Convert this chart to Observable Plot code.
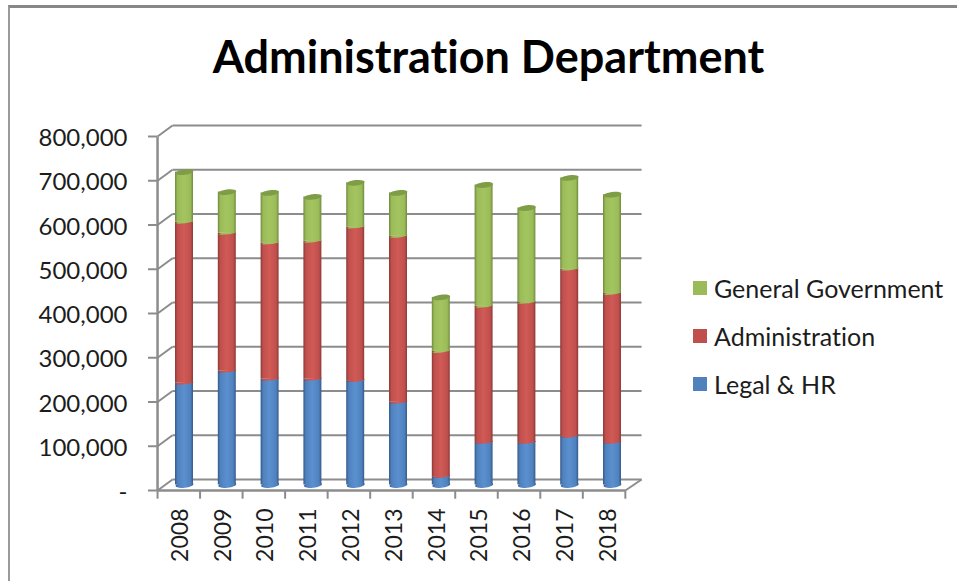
<!DOCTYPE html>
<html>
<head>
<meta charset="utf-8">
<title>Administration Department</title>
<script src="https://cdn.jsdelivr.net/npm/d3@7"></script>
<script src="https://cdn.jsdelivr.net/npm/@observablehq/plot@0.6"></script>
<style>
  html, body { margin: 0; padding: 0; background: #fff; }
  #chart { position: relative; width: 957px; height: 581px; overflow: hidden; font-family: Lato, "Open Sans", sans-serif; color: #1c1c1c; font-variant-ligatures: none; }
  #frame { position: absolute; left: 8px; top: 5px; right: -4px; bottom: -4px; border-top: 3px solid #878787; border-left: 2px solid #9a9a9a; }
  #title { position: absolute; left: 0; width: 977px; top: 30px; text-align: center; font-size: 45px; font-weight: 700; color: #000; line-height: 52px; white-space: nowrap; }
  .key { position: absolute; left: 693px; font-size: 25px; line-height: 28px; white-space: nowrap; }
  .key i { position: absolute; left: 0; top: 7px; width: 14px; height: 14px; }
  .key span { position: absolute; left: 21px; top: 0; }
  svg { position: absolute; left: 0; top: 0; }
  svg text { font-variant-ligatures: none; }
</style>
</head>
<body>
<div id="chart">
  <div id="frame"></div>
  <div id="title">Administration Department</div>
</div>
<script>
// Yearly budget by division, in dollars
const years = [2008, 2009, 2010, 2011, 2012, 2013, 2014, 2015, 2016, 2017, 2018];
const legalHr = [230000, 257000, 239000, 239000, 236000, 187000, 19000, 96000, 96000, 110000, 96000];
const administration = [364000, 312000, 308000, 312000, 347000, 375000, 283000, 308000, 317000, 378000, 337000];
const generalGovernment = [113000, 93000, 113000, 100000, 100000, 98000, 122000, 274000, 213000, 206000, 223000];
const yTicks = [0, 100000, 200000, 300000, 400000, 500000, 600000, 700000, 800000];

const seriesList = [
  {name: "Legal & HR", values: legalHr, swatch: "#4f81bd", light: "#5b90d0", dark: "#34598a", keyY: 370},
  {name: "Administration", values: administration, swatch: "#c0504d", light: "#d05a56", dark: "#8c3836", keyY: 322},
  {name: "General Government", values: generalGovernment, swatch: "#9bbb59", light: "#a3c560", dark: "#6f8a3d", keyY: 274}
];

// Each year's stack, bottom to top
const segments = seriesList.map(s => {
  return years.map((year, i) => {
    const below = seriesList.slice(0, seriesList.indexOf(s)).reduce((sum, o) => sum + o.values[i], 0);
    return {year, y1: below, y2: below + s.values[i]};
  });
});

// Oblique projection of the box: walls sit behind the bars, axes in front
const barHalf = 0.21;
const depthY = 12430;
const frontX = [2007.37, 2018.3];
const backX = [2007.72, 2018.68];
const frontTicks = d3.range(12).map(i => frontX[0] + i * (frontX[1] - frontX[0]) / 11);

// Tilted ellipse used for the ends of the cylinders
const tiltedEllipse = ratio => ({
  draw(context, size) {
    const rx = Math.sqrt(size / Math.PI), ry = rx * ratio, t = -0.12, k = 0.5523;
    const p = (a, b) => [a * rx * Math.cos(t) - b * ry * Math.sin(t), a * rx * Math.sin(t) + b * ry * Math.cos(t)];
    context.moveTo(...p(1, 0));
    context.bezierCurveTo(...p(1, k), ...p(k, 1), ...p(0, 1));
    context.bezierCurveTo(...p(-k, 1), ...p(-1, k), ...p(-1, 0));
    context.bezierCurveTo(...p(-1, -k), ...p(-k, -1), ...p(0, -1));
    context.bezierCurveTo(...p(k, -1), ...p(1, -k), ...p(1, 0));
    context.closePath();
  }
});

const gray = "#8c8c8c";
const marks = [
  // Back wall gridlines
  Plot.link(yTicks, {x1: backX[0], x2: backX[1], y1: v => v + depthY, y2: v => v + depthY, stroke: gray, strokeWidth: 2}),
  // Left wall connectors
  Plot.link(yTicks, {x1: frontX[0], x2: backX[0], y1: v => v - depthY, y2: v => v + depthY, stroke: gray, strokeWidth: 2}),
  // Floor edges
  Plot.link([0], {x1: frontX[0], x2: frontX[1], y1: -depthY, y2: -depthY, stroke: gray, strokeWidth: 2.5}),
  Plot.link([0], {x1: frontX[1], x2: backX[1], y1: -depthY, y2: depthY, stroke: gray, strokeWidth: 2}),
  // Front vertical axis line and category ticks
  Plot.link([0], {x1: frontX[0], x2: frontX[0], y1: -depthY, y2: 800000 - depthY, stroke: gray, strokeWidth: 2.5}),
  Plot.link(frontTicks, {x1: d => d, x2: d => d, y1: -depthY, y2: -31000, stroke: gray, strokeWidth: 2}),
  Plot.axisY(yTicks, {ticks: yTicks, tickSize: 9, dy: 5.5, stroke: gray, strokeWidth: 2, strokeOpacity: 1, fill: "none", label: null}),
  Plot.axisY(yTicks, {
    ticks: yTicks, tickSize: 0, tickPadding: 30, dy: 7.5, fontSize: 24, fill: "#1c1c1c", label: null,
    tickFormat: v => v === 0 ? "-" : d3.format(",")(v)
  }),
  Plot.axisX(years, {
    ticks: years, tickSize: 0, tickPadding: 18, dx: -4, fontSize: 23, fill: "#1c1c1c", label: null,
    tickRotate: -90, tickFormat: d => String(d)
  })
];

// Cylinders, lowest series first so each end overlaps the one beneath
seriesList.forEach((s, k) => {
  const id = `cyl${k}`;
  marks.push(
    Plot.rectY(segments[k], {x1: d => d.year - barHalf, x2: d => d.year + barHalf, y1: "y1", y2: "y2", fill: `url(#${id})`}),
    Plot.dot(segments[k], {x: "year", y: "y1", r: 9, symbol: tiltedEllipse(k === 0 ? 0.3 : 0.12), fill: `url(#${id})`})
  );
});
// Green tops
marks.push(Plot.dot(segments[2], {x: "year", y: "y2", r: 9, symbol: tiltedEllipse(0.3), fill: "#7f9c47"}));

const chart = Plot.plot({
  width: 957,
  height: 581,
  marginLeft: 157,
  marginBottom: 91,
  marginTop: 0,
  marginRight: 0,
  style: {fontFamily: 'Lato, "Open Sans", sans-serif', background: "transparent"},
  x: {domain: [2008, 2018], range: [184, 612], axis: null},
  y: {domain: [0, 800000], range: [484.5, 130.5], axis: null},
  marks
});

// Horizontal shading that gives the bars their round look
const defs = d3.select(chart).insert("defs", ":first-child");
seriesList.forEach((s, k) => {
  const g = defs.append("linearGradient").attr("id", `cyl${k}`);
  [[0, s.dark], [0.14, s.swatch], [0.5, s.light], [0.86, s.swatch], [1, s.dark]].forEach(([o, c]) => {
    g.append("stop").attr("offset", o).attr("stop-color", c);
  });
});

const root = document.getElementById("chart");
root.appendChild(chart);

// Legend, in reverse stacking order
seriesList.forEach(s => {
  const row = document.createElement("div");
  row.className = "key";
  row.style.top = s.keyY + "px";
  const sw = document.createElement("i");
  sw.style.background = s.swatch;
  const label = document.createElement("span");
  label.textContent = s.name;
  row.append(sw, label);
  root.appendChild(row);
});
</script>
</body>
</html>
